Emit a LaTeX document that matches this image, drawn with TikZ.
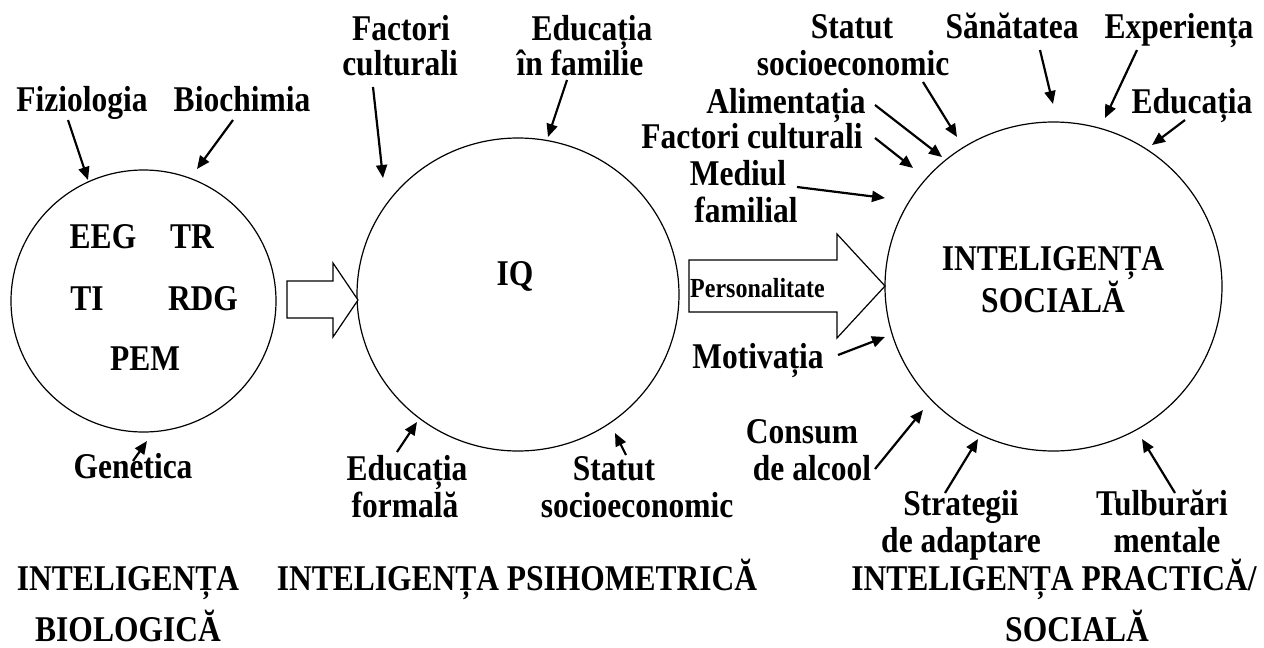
\documentclass[tikz,border=0pt]{standalone}
\usepackage{fontspec}
\setmainfont{Liberation Serif}
\usetikzlibrary{arrows.meta,shapes.geometric}
\newcommand\vstretch[1]{\scalebox{1}[1.15]{#1}}
\tikzset{
  lbl/.style={anchor=base, inner sep=0pt, font=\fontsize{31.5}{34}\selectfont\bfseries},
  small/.style={anchor=base west, inner sep=0pt, font=\fontsize{24}{26}\selectfont\bfseries},
  ring/.style={draw, ellipse, inner sep=0pt, line width=1.2pt},
  block/.style={draw, line width=1.2pt, fill=white, line join=miter},
  infl/.style={line width=2.2pt, -{Triangle[length=13pt,width=11pt]}}
}
\begin{document}
\begin{tikzpicture}[x=1pt,y=-1pt]
\useasboundingbox (0,0) rectangle (1264,648);
% circles
\node[ring, minimum width=265pt, minimum height=262pt] (cb) at (143.5,301) {};
\node[ring, minimum width=322pt, minimum height=313pt] (cp) at (518,294.5) {};
\node[ring, minimum width=337pt, minimum height=329pt] (cs) at (1053.5,286.5) {};
% block arrows
\draw[block] (287,281) -- (333,281) -- (333,263) -- (358,300) -- (333,337) -- (333,318) -- (287,318) -- cycle;
\draw[block] (689,260) -- (837,260) -- (837,234) -- (885,286) -- (837,338) -- (837,312) -- (689,312) -- cycle;
\node[small] (pers) at (690,297) {\vstretch{Personalitate}};
% left circle texts
\node[lbl] (fiz) at (82,111) {\vstretch{Fiziologia}};
\node[lbl] (bioc) at (242,111) {\vstretch{Biochimia}};
\node[lbl] (eeg) at (103,248) {\vstretch{EEG}};
\node[lbl] (tr) at (192,248) {\vstretch{TR}};
\node[lbl] (ti) at (87,310) {\vstretch{TI}};
\node[lbl] (rdg) at (203,310) {\vstretch{RDG}};
\node[lbl] (pem) at (145,370) {\vstretch{PEM}};
\node[lbl] (gen) at (133,478) {\vstretch{Genetica}};
% middle texts
\node[lbl] (fc1) at (401,40) {\vstretch{Factori}};
\node[lbl] (fc2) at (400,75) {\vstretch{culturali}};
\node[lbl] (ef1) at (592,40) {\vstretch{Educația}};
\node[lbl] (ef2) at (580,75) {\vstretch{în familie}};
\node[lbl] (iq) at (515,285) {\vstretch{IQ}};
\node[lbl] (efo1) at (407,480) {\vstretch{Educația}};
\node[lbl] (efo2) at (405,517) {\vstretch{formală}};
\node[lbl] (ss1) at (614,480) {\vstretch{Statut}};
\node[lbl] (ss2) at (637,517) {\vstretch{socioeconomic}};
% right texts
\node[lbl] (rs1) at (852,38) {\vstretch{Statut}};
\node[lbl] (rs2) at (853,75) {\vstretch{socioeconomic}};
\node[lbl] (san) at (1012,38) {\vstretch{Sănătatea}};
\node[lbl] (exp) at (1179,38) {\vstretch{Experiența}};
\node[lbl] (edu) at (1192,113) {\vstretch{Educația}};
\node[lbl] (ali) at (786,113) {\vstretch{Alimentația}};
\node[lbl] (rfc) at (752,148) {\vstretch{Factori culturali}};
\node[lbl] (med1) at (738,185) {\vstretch{Mediul}};
\node[lbl] (med2) at (746,222) {\vstretch{familial}};
\node[lbl] (mot) at (758,368) {\vstretch{Motivația}};
\node[lbl] (con1) at (802,443) {\vstretch{Consum}};
\node[lbl] (con2) at (812,480) {\vstretch{de alcool}};
\node[lbl] (str1) at (961,515) {\vstretch{Strategii}};
\node[lbl] (str2) at (961,552) {\vstretch{de adaptare}};
\node[lbl] (tul1) at (1162,515) {\vstretch{Tulburări}};
\node[lbl] (tul2) at (1167,552) {\vstretch{mentale}};
\node[lbl] (is1) at (1053,270) {\vstretch{INTELIGENȚA}};
\node[lbl] (is2) at (1053,312) {\vstretch{SOCIALĂ}};
% bottom titles
\node[lbl] (b1) at (128,590) {\vstretch{INTELIGENȚA}};
\node[lbl] (b2) at (128,641) {\vstretch{BIOLOGICĂ}};
\node[lbl] (p1) at (517,590) {\vstretch{INTELIGENȚA PSIHOMETRICĂ}};
\node[lbl] (s1) at (1054,590) {\vstretch{INTELIGENȚA PRACTICĂ/}};
\node[lbl] (s2) at (1077,641) {\vstretch{SOCIALĂ}};
% arrow end points
\coordinate (l1a) at (68,120);   \coordinate (l1b) at (88,180);
\coordinate (l2a) at (233,120);  \coordinate (l2b) at (197,169);
\coordinate (l3a) at (133,461);  \coordinate (l3b) at (147,441);
\coordinate (m1a) at (373,87);   \coordinate (m1b) at (383,178);
\coordinate (m2a) at (567,80);   \coordinate (m2b) at (548,137);
\coordinate (m3a) at (397,452);  \coordinate (m3b) at (417,422);
\coordinate (m4a) at (626,455);  \coordinate (m4b) at (615,433);
\coordinate (r1a) at (923,82);   \coordinate (r1b) at (957,137);
\coordinate (r2a) at (1040,50);  \coordinate (r2b) at (1053,104);
\coordinate (r3a) at (1137,50);  \coordinate (r3b) at (1105,118);
\coordinate (r4a) at (1185,120); \coordinate (r4b) at (1152,145);
\coordinate (r5a) at (875,105);  \coordinate (r5b) at (942,157);
\coordinate (r6a) at (875,138);  \coordinate (r6b) at (913,168);
\coordinate (r7a) at (797,187);  \coordinate (r7b) at (885,198);
\coordinate (r8a) at (838,355);  \coordinate (r8b) at (885,337);
\coordinate (r9a) at (875,469);  \coordinate (r9b) at (923,410);
\coordinate (r10a) at (945,493); \coordinate (r10b) at (978,439);
\coordinate (r11a) at (1175,493);\coordinate (r11b) at (1142,439);
\foreach \p in {l1,l2,l3,m1,m2,m3,m4,r1,r2,r3,r4,r5,r6,r7,r8,r9,r10,r11}
  \draw[infl] (\p a) -- (\p b);
\end{tikzpicture}
\end{document}
